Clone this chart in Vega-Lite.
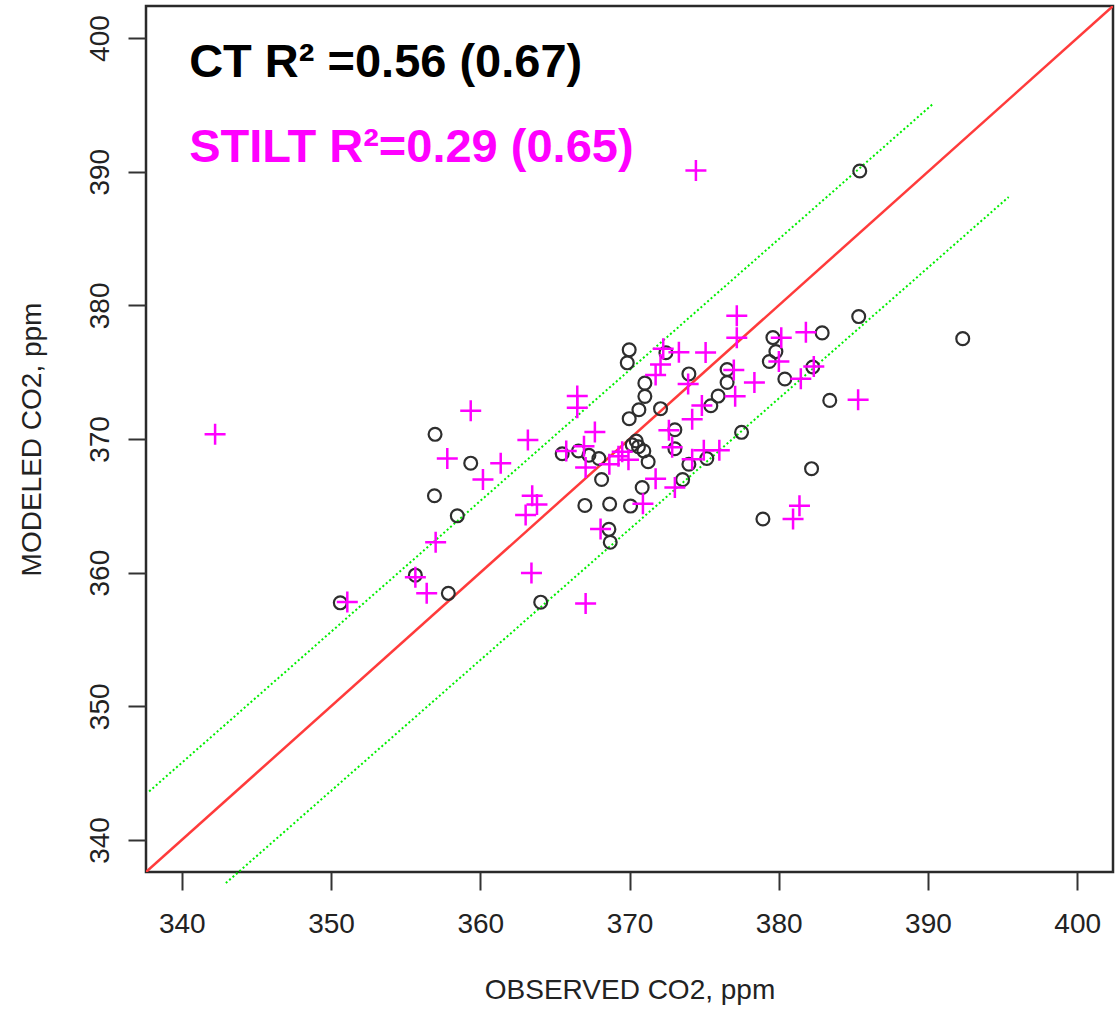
{
  "$schema": "https://vega.github.io/schema/vega-lite/v6.json",
  "width": 967,
  "height": 866,
  "autosize": {"type": "none"},
  "padding": {"left": 146, "top": 6, "right": 7, "bottom": 138},
  "background": "white",
  "config": {
    "font": "Liberation Sans",
    "view": {"stroke": "#2a2a2a", "strokeWidth": 2.5},
    "axis": {
      "grid": false,
      "domain": false,
      "tickSize": 18,
      "tickWidth": 2,
      "tickColor": "#333333",
      "labelFont": "Liberation Sans",
      "labelFontSize": 28,
      "labelColor": "#222222",
      "titleFont": "Liberation Sans",
      "titleFontSize": 28,
      "titleFontWeight": "normal",
      "titleColor": "#222222"
    }
  },
  "datasets": {
    "ct": [
      {"x": 385.43, "y": 390.05}, {"x": 392.33, "y": 377.51}, {"x": 385.36, "y": 379.16},
      {"x": 382.91, "y": 377.94}, {"x": 383.42, "y": 372.89}, {"x": 382.20, "y": 367.78},
      {"x": 378.94, "y": 364.01}, {"x": 379.61, "y": 377.59}, {"x": 379.81, "y": 376.54},
      {"x": 379.37, "y": 375.80}, {"x": 382.28, "y": 375.39}, {"x": 380.41, "y": 374.49},
      {"x": 376.54, "y": 375.20}, {"x": 376.54, "y": 374.23}, {"x": 375.94, "y": 373.21},
      {"x": 375.45, "y": 372.49}, {"x": 377.51, "y": 370.50}, {"x": 375.18, "y": 368.54},
      {"x": 373.98, "y": 368.11}, {"x": 373.56, "y": 366.96}, {"x": 373.98, "y": 374.87},
      {"x": 373.04, "y": 370.69}, {"x": 373.04, "y": 369.27}, {"x": 372.08, "y": 372.27},
      {"x": 371.03, "y": 374.18}, {"x": 371.03, "y": 373.19}, {"x": 370.63, "y": 372.19},
      {"x": 369.98, "y": 371.52}, {"x": 369.98, "y": 376.67}, {"x": 369.85, "y": 375.70},
      {"x": 372.44, "y": 376.45}, {"x": 370.45, "y": 369.85}, {"x": 370.60, "y": 369.42},
      {"x": 370.18, "y": 369.57}, {"x": 370.96, "y": 369.10}, {"x": 371.25, "y": 368.30},
      {"x": 370.85, "y": 366.37}, {"x": 370.07, "y": 364.98}, {"x": 368.67, "y": 365.13},
      {"x": 367.01, "y": 365.03}, {"x": 368.13, "y": 366.97}, {"x": 368.62, "y": 363.24},
      {"x": 368.71, "y": 362.27}, {"x": 367.95, "y": 368.54}, {"x": 367.28, "y": 368.78},
      {"x": 366.58, "y": 369.10}, {"x": 365.49, "y": 368.90}, {"x": 364.05, "y": 357.79},
      {"x": 357.86, "y": 358.45}, {"x": 355.65, "y": 359.81}, {"x": 358.46, "y": 364.25},
      {"x": 356.93, "y": 365.75}, {"x": 359.36, "y": 368.19}, {"x": 356.97, "y": 370.35},
      {"x": 350.62, "y": 357.74}
    ],
    "stilt": [
      {"x": 342.23, "y": 370.35}, {"x": 359.36, "y": 372.12}, {"x": 357.79, "y": 368.54},
      {"x": 361.37, "y": 368.19}, {"x": 360.18, "y": 366.97}, {"x": 363.19, "y": 369.93},
      {"x": 363.48, "y": 365.75}, {"x": 363.80, "y": 365.09}, {"x": 363.04, "y": 364.31},
      {"x": 363.43, "y": 359.98}, {"x": 357.01, "y": 362.27}, {"x": 355.65, "y": 359.66},
      {"x": 356.41, "y": 358.45}, {"x": 351.09, "y": 357.81}, {"x": 367.06, "y": 357.70},
      {"x": 368.06, "y": 363.26}, {"x": 370.90, "y": 365.15}, {"x": 371.75, "y": 367.03},
      {"x": 373.04, "y": 366.37}, {"x": 372.86, "y": 369.38}, {"x": 372.64, "y": 370.65},
      {"x": 374.20, "y": 371.47}, {"x": 374.85, "y": 372.51}, {"x": 374.20, "y": 368.49},
      {"x": 374.98, "y": 369.16}, {"x": 376.02, "y": 369.16}, {"x": 377.08, "y": 373.19},
      {"x": 378.37, "y": 374.23}, {"x": 376.99, "y": 375.16}, {"x": 375.10, "y": 376.47},
      {"x": 377.19, "y": 377.57}, {"x": 377.19, "y": 379.23}, {"x": 380.17, "y": 377.57},
      {"x": 381.82, "y": 377.99}, {"x": 380.01, "y": 375.80}, {"x": 381.48, "y": 374.51},
      {"x": 382.35, "y": 375.43}, {"x": 385.32, "y": 372.94}, {"x": 381.39, "y": 365.00},
      {"x": 380.96, "y": 364.01}, {"x": 374.45, "y": 390.09}, {"x": 373.93, "y": 374.12},
      {"x": 373.31, "y": 376.49}, {"x": 372.26, "y": 376.75}, {"x": 372.08, "y": 375.57},
      {"x": 371.75, "y": 374.79}, {"x": 366.50, "y": 373.21}, {"x": 366.50, "y": 372.34},
      {"x": 367.68, "y": 370.52}, {"x": 365.76, "y": 369.10}, {"x": 366.95, "y": 369.46},
      {"x": 367.06, "y": 367.87}, {"x": 368.65, "y": 368.11}, {"x": 369.51, "y": 369.04},
      {"x": 369.26, "y": 368.71}, {"x": 369.93, "y": 368.45}
    ],
    "oneToOne": [{"x": 337.6, "y": 337.6}, {"x": 402.4, "y": 402.4}],
    "bands": [
      {"g": "upper", "x": 337.81, "y": 343.63}, {"g": "upper", "x": 390.39, "y": 395.13},
      {"g": "lower", "x": 342.95, "y": 336.77}, {"g": "lower", "x": 395.41, "y": 388.11}
    ],
    "labels": [
      {"model": "CT", "label": "CT R² =0.56 (0.67)", "x": 340.49, "y": 397.09},
      {"model": "STILT", "label": "STILT R²=0.29 (0.65)", "x": 340.49, "y": 390.75}
    ]
  },
  "encoding": {
    "x": {
      "field": "x", "type": "quantitative",
      "scale": {"domain": [337.6, 402.4], "nice": false, "zero": false},
      "axis": {"values": [340, 350, 360, 370, 380, 390, 400], "labelPadding": 20, "titlePadding": 38, "title": "OBSERVED CO2, ppm"}
    },
    "y": {
      "field": "y", "type": "quantitative",
      "scale": {"domain": [337.6, 402.4], "nice": false, "zero": false},
      "axis": {"values": [340, 350, 360, 370, 380, 390, 400], "labelAngle": -90, "labelAlign": "center", "labelBaseline": "bottom", "labelPadding": 14, "titlePadding": 40, "title": "MODELED CO2, ppm"}
    }
  },
  "layer": [
    {
      "data": {"name": "bands"},
      "mark": {"type": "line", "color": "#00ee00", "strokeWidth": 2, "strokeDash": [2, 2.5], "clip": false},
      "encoding": {"detail": {"field": "g"}}
    },
    {
      "data": {"name": "oneToOne"},
      "mark": {"type": "line", "color": "#ff3b3b", "strokeWidth": 2.5, "clip": true},
      "encoding": {}
    },
    {
      "data": {"name": "ct"},
      "mark": {"type": "point", "shape": "circle", "filled": false, "stroke": "#2e2e2e", "strokeWidth": 2.2, "size": 165, "opacity": 1}
    },
    {
      "data": {"name": "stilt"},
      "mark": {"type": "point", "shape": "M-1,0L1,0M0,-1L0,1", "filled": false, "stroke": "#ff00ff", "strokeWidth": 2.5, "size": 441, "opacity": 1}
    },
    {
      "data": {"name": "labels"},
      "mark": {"type": "text", "align": "left", "baseline": "alphabetic", "fontSize": 47, "fontWeight": "bold", "font": "Liberation Sans"},
      "encoding": {
        "text": {"field": "label"},
        "color": {"field": "model", "type": "nominal", "scale": {"domain": ["CT", "STILT"], "range": ["#000000", "#ff00ff"]}, "legend": null}
      }
    }
  ]
}
